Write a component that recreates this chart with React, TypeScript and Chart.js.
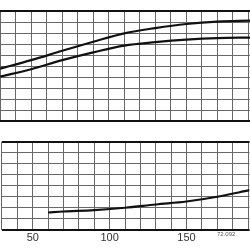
import React, { useEffect, useRef } from "react";
import { Chart, registerables } from "chart.js";

Chart.register(...registerables);

const xTop = [30, 50, 70, 90, 110, 130, 150, 170, 191];
const upperCurve = [4.76, 5.53, 6.38, 7.2, 7.97, 8.45, 8.82, 9.04, 9.12];
const lowerCurve = [4.03, 4.71, 5.53, 6.24, 6.86, 7.17, 7.4, 7.54, 7.58];

const xBottom = [60, 70, 90, 110, 130, 150, 170, 191];
const bottomCurve = [1.57, 1.66, 1.79, 2.0, 2.3, 2.57, 3.0, 3.6];

const xLabels = [50, 100, 150];
const xMin = 29.9;
const xMax = 191;
const topYMax = 10;
const bottomYMax = 8;
const docCode = "72.092";

const GRID = "#686868";
const FONT = "'Liberation Sans', Arial, Helvetica, sans-serif";

function makeOptions(yMax: number, showLabels: boolean, padding: any) {
  return {
    animation: false as const,
    responsive: false,
    maintainAspectRatio: false,
    layout: { padding },
    plugins: { legend: { display: false }, tooltip: { enabled: false } },
    elements: { point: { radius: 0 }, line: { tension: 0.35 } },
    scales: {
      x: {
        type: "linear" as const,
        min: xMin,
        max: xMax,
        border: { display: false },
        grid: { color: GRID, lineWidth: 1, drawTicks: false },
        ticks: {
          stepSize: 10,
          includeBounds: false,
          display: showLabels,
          padding: 2,
          maxRotation: 0,
          autoSkip: false,
          color: "#333",
          font: { family: FONT, size: 11 },
          callback: (v: any) => (xLabels.includes(Number(v)) ? String(v) : ""),
        },
      },
      y: {
        type: "linear" as const,
        min: 0,
        max: yMax,
        border: { display: false },
        grid: {
          drawTicks: false,
          color: (ctx: any) =>
            ctx.tick && (ctx.tick.value === 0 || ctx.tick.value === yMax) ? "#111" : GRID,
          lineWidth: (ctx: any) =>
            ctx.tick && (ctx.tick.value === 0 || ctx.tick.value === yMax) ? 2 : 1,
        },
        ticks: { display: false, stepSize: 1 },
      },
    },
  };
}

export default function App() {
  const topRef = useRef<HTMLCanvasElement>(null);
  const botRef = useRef<HTMLCanvasElement>(null);

  useEffect(() => {
    const top = new Chart(topRef.current!, {
      type: "line",
      data: {
        datasets: [
          {
            data: xTop.map((x, i) => ({ x, y: upperCurve[i] })),
            borderColor: "#111",
            borderWidth: 2.2,
          },
          {
            data: xTop.map((x, i) => ({ x, y: lowerCurve[i] })),
            borderColor: "#111",
            borderWidth: 2.2,
          },
        ],
      },
      options: makeOptions(topYMax, false, { top: 11, bottom: 4, left: 0, right: 0 }) as any,
    });
    const bot = new Chart(botRef.current!, {
      type: "line",
      data: {
        datasets: [
          {
            data: xBottom.map((x, i) => ({ x, y: bottomCurve[i] })),
            borderColor: "#111",
            borderWidth: 2.2,
          },
        ],
      },
      options: makeOptions(bottomYMax, true, { top: 11.7, bottom: 3, left: 0, right: 0 }) as any,
    });
    return () => {
      top.destroy();
      bot.destroy();
    };
  }, []);

  return (
    <div style={{ position: "fixed", left: 0, top: 0, width: 250, height: 250, background: "#fff" }}>
      <canvas ref={topRef} width={250} height={125} style={{ position: "absolute", left: 0, top: 0 }} />
      <canvas ref={botRef} width={250} height={120} style={{ position: "absolute", left: 0, top: 130 }} />
      <div
        style={{
          position: "absolute",
          left: 217,
          top: 231,
          fontFamily: FONT,
          fontSize: 6,
          color: "#555",
          lineHeight: "7px",
        }}
      >
        {docCode}
      </div>
    </div>
  );
}
